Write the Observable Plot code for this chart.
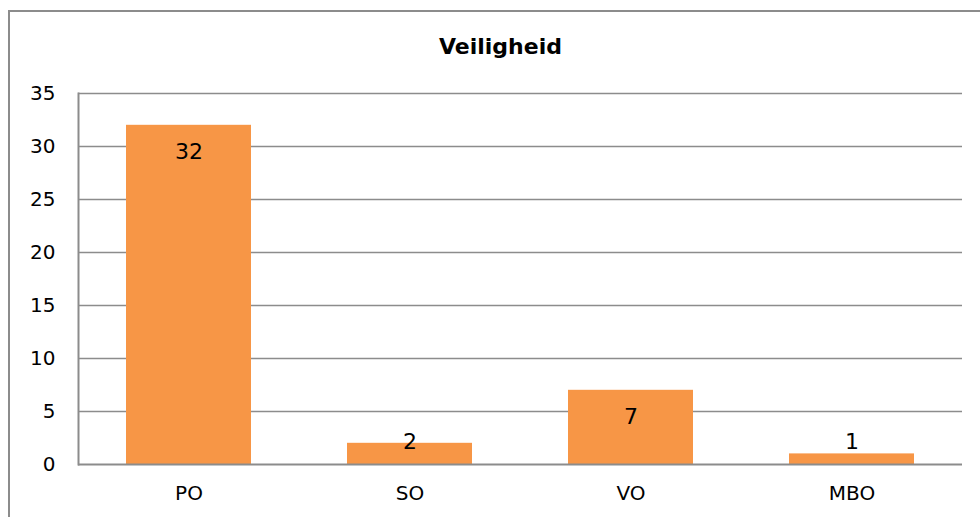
<!DOCTYPE html>
<html>
<head>
<meta charset="utf-8">
<script src="https://cdn.jsdelivr.net/npm/d3@7"></script>
<script src="https://cdn.jsdelivr.net/npm/@observablehq/plot@0.6"></script>
<style>
  html, body { margin: 0; padding: 0; background: #fff; }
  #wrap { position: relative; width: 980px; height: 517px; overflow: hidden; }
  #frame { position: absolute; left: 8px; top: 10px; width: 1000px; height: 600px; border: 2px solid #8c8c8c; box-sizing: border-box; }
  #chart { position: absolute; left: 0; top: 0; }
</style>
</head>
<body>
<div id="wrap"><div id="frame"></div><div id="chart"></div></div>
<script>
const title = "Veiligheid";
const categories = ["PO", "SO", "VO", "MBO"];
const values = [32, 2, 7, 1];
const yTicks = [0, 5, 10, 15, 20, 25, 30, 35];

const data = categories.map((c, i) => ({ cat: c, value: values[i] }));
const font = "DejaVu Sans, sans-serif";

const chart = Plot.plot({
  width: 980,
  height: 517,
  marginTop: 93,
  marginBottom: 53,
  marginLeft: 78,
  marginRight: 18,
  style: { fontFamily: font, fontSize: "20px", color: "#000", background: "transparent" },
  x: { domain: categories, paddingInner: 0.434, paddingOuter: 0.217, label: null, tickSize: 0, tickPadding: 21 },
  y: { domain: [0, 35], ticks: yTicks, label: null, tickSize: 0, tickPadding: 23 },
  marks: [
    Plot.gridY(yTicks.filter(t => t > 0), { stroke: "#8c8c8c", strokeOpacity: 1, strokeWidth: 1.6 }),
    Plot.barY(data, { x: "cat", y: "value", fill: "#F79646" }),
    Plot.ruleY([0], { stroke: "#8c8c8c", strokeWidth: 2 }),
    Plot.frame({ anchor: "left", stroke: "#8c8c8c", strokeWidth: 2 }),
    Plot.text(data.filter(d => d.value >= 5), { x: "cat", y: "value", text: d => String(d.value), dy: 27, fill: "#000", fontSize: 22 }),
    Plot.text(data.filter(d => d.value < 5), { x: "cat", y: 0, text: d => String(d.value), dy: -23, fill: "#000", fontSize: 22 }),
    Plot.text([title], { frameAnchor: "top", dy: -55, dx: -20, text: d => d, fontWeight: "bold", fontSize: 22, fill: "#000" })
  ]
});
document.getElementById("chart").appendChild(chart);
</script>
</body>
</html>
